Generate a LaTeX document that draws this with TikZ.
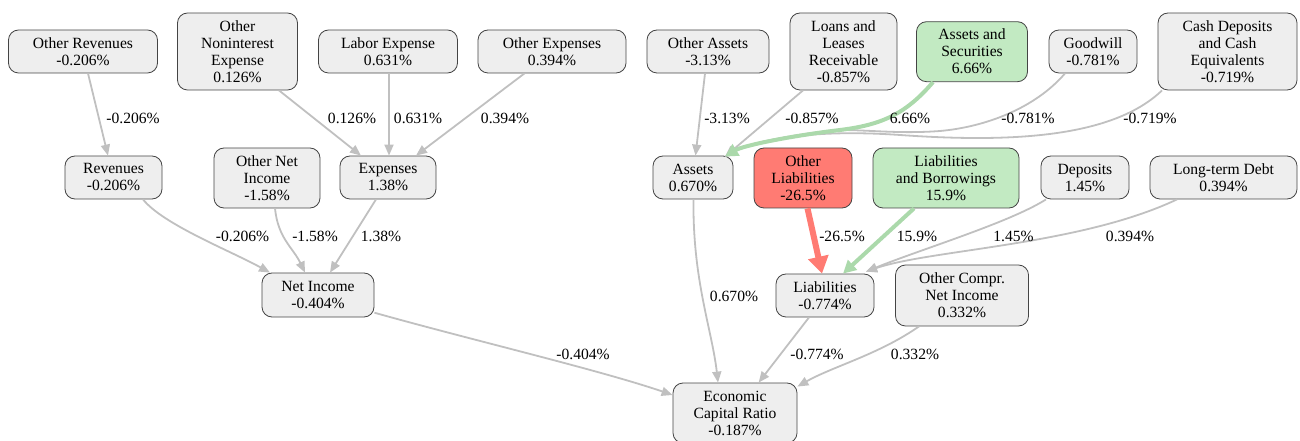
\documentclass[tikz,border=0pt]{standalone}
\usepackage{fontspec}
\setmainfont{Liberation Serif}
\usetikzlibrary{arrows.meta}
\definecolor{nodegray}{HTML}{EEEEEE}
\definecolor{nodeborder}{HTML}{444444}
\definecolor{edgegray}{HTML}{C0C0C0}
\definecolor{greenfill}{HTML}{C2EAC2}
\definecolor{greenedge}{HTML}{ABD9AB}
\definecolor{redfill}{HTML}{FF7B73}
\definecolor{rededge}{HTML}{FF7B73}
\tikzset{
  box/.style={draw=nodeborder, line width=0.8bp, fill=nodegray, rounded corners=10bp,
    align=center, inner sep=0pt, font=\rmfamily\fontsize{15.6bp}{17bp}\selectfont},
  goodbox/.style={box, fill=greenfill},
  badbox/.style={box, fill=redfill},
  edge/.style={draw=edgegray, line width=1.8bp, -{Triangle[length=11bp,width=9bp]}},
  goodedge/.style={draw=greenedge, line width=4bp, -{Triangle[length=13bp,width=13bp]}},
  badedge/.style={draw=rededge, line width=6bp, -{Triangle[length=17bp,width=20bp]}},
  elabel/.style={font=\rmfamily\fontsize{15.6bp}{17bp}\selectfont, inner sep=0pt}
}
\begin{document}
\begin{tikzpicture}[x=1bp,y=-1bp]
\useasboundingbox (0,0) rectangle (1300,441);
% row 1
\node[box, minimum width=149bp, minimum height=43bp] (orev) at (83,51.5) {Other Revenues\\-0.206\%};
\node[box, minimum width=120bp, minimum height=77bp] (onie) at (237.5,51.5) {Other\\Noninterest\\Expense\\0.126\%};
\node[box, minimum width=139bp, minimum height=43bp] (labor) at (388,51.5) {Labor Expense\\0.631\%};
\node[box, minimum width=148bp, minimum height=43bp] (oexp) at (552,51.5) {Other Expenses\\0.394\%};
\node[box, minimum width=122bp, minimum height=43bp] (oassets) at (708,51.5) {Other Assets\\-3.13\%};
\node[box, minimum width=107bp, minimum height=77bp] (loans) at (843.5,51.5) {Loans and\\Leases\\Receivable\\-0.857\%};
\node[goodbox, minimum width=111bp, minimum height=60bp] (asec) at (972,51.7) {Assets and\\Securities\\6.66\%};
\node[box, minimum width=88bp, minimum height=43bp] (goodwill) at (1093,51.5) {Goodwill\\-0.781\%};
\node[box, minimum width=139bp, minimum height=77bp] (cash) at (1227.5,51.5) {Cash Deposits\\and Cash\\Equivalents\\-0.719\%};
% row 2
\node[box, minimum width=97bp, minimum height=43bp] (rev) at (113.5,177.5) {Revenues\\-0.206\%};
\node[box, minimum width=106bp, minimum height=60bp] (onet) at (267,178) {Other Net\\Income\\-1.58\%};
\node[box, minimum width=96bp, minimum height=43bp] (exp) at (388,177.5) {Expenses\\1.38\%};
\node[box, minimum width=80bp, minimum height=43bp] (assets) at (693,177.5) {Assets\\0.670\%};
\node[badbox, minimum width=98bp, minimum height=60bp] (oliab) at (803,178) {Other\\Liabilities\\-26.5\%};
\node[goodbox, minimum width=146bp, minimum height=60bp] (lab) at (946,178) {Liabilities\\and Borrowings\\15.9\%};
\node[box, minimum width=88bp, minimum height=43bp] (dep) at (1085,177.5) {Deposits\\1.45\%};
\node[box, minimum width=147bp, minimum height=43bp] (ltd) at (1223.5,177.5) {Long-term Debt\\0.394\%};
% row 3
\node[box, minimum width=112bp, minimum height=44bp] (ni) at (318,295) {Net Income\\-0.404\%};
\node[box, minimum width=98bp, minimum height=43bp] (liab) at (825,295.5) {Liabilities\\-0.774\%};
\node[box, minimum width=133bp, minimum height=61bp] (ocni) at (962,295.5) {Other Compr.\\Net Income\\0.332\%};
% row 4
\node[box, minimum width=124bp, minimum height=60bp] (ecr) at (735,413) {Economic\\Capital Ratio\\-0.187\%};

\coordinate (amerge) at (840,130);
\coordinate (gwmid) at (940,131);
\coordinate (cashmid) at (900,135);

% edges
\draw[edge] ([xshift=5bp]orev.south) -- ([xshift=-5.5bp]rev.north);
\draw[edge] ([xshift=41.5bp]onie.south) -- ([xshift=-27bp]exp.north);
\draw[edge] ([xshift=1bp]labor.south) -- ([xshift=1bp]exp.north);
\draw[edge] ([xshift=-27.5bp]oexp.south) -- ([xshift=28bp]exp.north);
\draw[edge] ([xshift=29.5bp]rev.south) .. controls +(20,25) and +(-40,-22) .. ([xshift=-48bp]ni.north);
\draw[edge] ([xshift=8bp]onet.south) .. controls +(3,30) and +(-12,-25) .. ([xshift=-13bp]ni.north);
\draw[edge] ([xshift=-12bp]exp.south) -- ([xshift=12bp]ni.north);
\draw[edge] ([yshift=-17.7bp]ni.east) .. controls +(96,27) and +(-73,-25) .. ([yshift=18bp]ecr.west);

\draw[edge] ([xshift=-3bp]oassets.south) -- ([xshift=2.5bp]assets.north);
\draw[edge] ([xshift=-40.5bp]loans.south) -- ([xshift=32bp,yshift=-1bp]assets.north);
\draw[edge] ([xshift=-28bp]goodwill.south) .. controls +(-30,35) and +(45,-4) .. (gwmid)
  .. controls +(-40,3) and +(30,0) .. (amerge)
  .. controls +(-50,4) and +(18,-11) .. ([xshift=32bp,yshift=-1bp]assets.north);
\draw[edge] ([xshift=-65.5bp]cash.south) .. controls +(-52,50) and +(100,7) .. (cashmid)
  .. controls +(-100,-7) and +(23,-13) .. ([xshift=32bp,yshift=-1bp]assets.north);
\draw[goodedge] ([xshift=-39bp]asec.south) .. controls +(-28,33) and +(40,-5) .. (amerge)
  .. controls +(-50,6) and +(18,-11) .. ([xshift=32bp,yshift=-1bp]assets.north);

\draw[edge] ([xshift=0.5bp]assets.south) .. controls +(-1,81) and +(-6,-53) .. ([xshift=-17bp]ecr.north);
\draw[badedge] ([xshift=4.5bp]oliab.south) -- ([xshift=-3bp]liab.north);
\draw[goodedge] ([xshift=-32bp]lab.south) -- ([xshift=18bp]liab.north);
\draw[edge] ([xshift=-39bp]dep.south) .. controls +(-36,23) and +(54,-22) .. ([xshift=41bp,yshift=2bp]liab.north);
\draw[edge] ([xshift=-46.5bp]ltd.south) .. controls +(-97,46) and +(64,-22) .. ([xshift=41bp,yshift=2bp]liab.north);
\draw[edge] ([xshift=-16bp]liab.south) -- ([xshift=23.6bp]ecr.north);
\draw[edge] ([xshift=-43bp]ocni.south) .. controls +(-40,28) and +(35,-20) .. ([yshift=-4bp]ecr.north east);

% edge labels
\node[elabel] (l1) at (133,118) {-0.206\%};
\node[elabel] (l2) at (352,118) {0.126\%};
\node[elabel] (l3) at (418,118) {0.631\%};
\node[elabel] (l4) at (505,118) {0.394\%};
\node[elabel] (l5) at (727,118) {-3.13\%};
\node[elabel] (l6) at (812,118) {-0.857\%};
\node[elabel] (l7) at (910,118) {6.66\%};
\node[elabel] (l8) at (1028,118) {-0.781\%};
\node[elabel] (l9) at (1150,118) {-0.719\%};
\node[elabel] (l10) at (242.5,236) {-0.206\%};
\node[elabel] (l11) at (315,236) {-1.58\%};
\node[elabel] (l12) at (381,236) {1.38\%};
\node[elabel] (l13) at (583,354) {-0.404\%};
\node[elabel] (l14) at (842,236) {-26.5\%};
\node[elabel] (l15) at (917,236) {15.9\%};
\node[elabel] (l16) at (1013.5,236) {1.45\%};
\node[elabel] (l17) at (1130,236) {0.394\%};
\node[elabel] (l18) at (734,296) {0.670\%};
\node[elabel] (l19) at (817,354) {-0.774\%};
\node[elabel] (l20) at (915,354) {0.332\%};
\end{tikzpicture}
\end{document}
